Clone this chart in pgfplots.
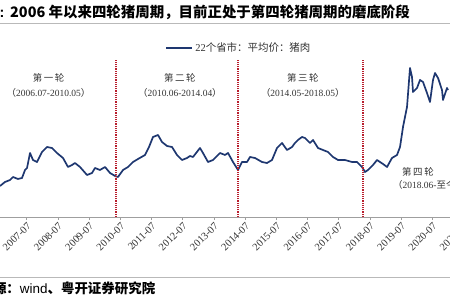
\documentclass[border=0pt]{standalone}
\usepackage{fontspec}
\setmainfont{Liberation Serif}
\setsansfont{Liberation Sans}
\newfontfamily\cjk{Noto Sans CJK SC}
\usepackage{pgfplots}
\pgfplotsset{compat=1.18}
\definecolor{navy}{RGB}{30,55,112}
\definecolor{dred}{RGB}{185,30,45}
\pgfplotstableread{
x y
2006.644 11.33
2006.804 12.67
2006.965 13.33
2007.061 14.33
2007.221 13.67
2007.349 14.00
2007.446 16.67
2007.510 17.33
2007.606 22.33
2007.702 20.00
2007.830 19.33
2007.990 22.67
2008.151 24.33
2008.311 24.00
2008.471 22.33
2008.663 20.67
2008.824 17.67
2008.952 18.33
2009.048 19.00
2009.208 17.67
2009.433 15.00
2009.593 15.67
2009.689 17.33
2009.849 16.67
2010.010 17.67
2010.170 15.67
2010.333 14.67
2010.426 14.33
2010.587 16.67
2010.747 17.67
2010.907 19.33
2011.067 20.33
2011.292 21.67
2011.420 24.33
2011.548 27.67
2011.708 28.33
2011.836 26.00
2011.997 24.67
2012.157 24.33
2012.317 21.67
2012.477 20.00
2012.638 20.67
2012.734 21.33
2012.830 21.00
2013.054 24.00
2013.150 22.33
2013.311 19.33
2013.471 20.00
2013.696 22.33
2013.856 21.67
2013.952 22.33
2014.112 19.33
2014.273 16.67
2014.401 19.33
2014.561 19.33
2014.657 21.00
2014.817 20.67
2015.042 19.33
2015.202 19.00
2015.362 20.00
2015.522 24.00
2015.683 25.67
2015.843 23.33
2016.003 24.33
2016.099 25.67
2016.195 26.67
2016.324 27.67
2016.420 27.33
2016.580 25.67
2016.676 26.67
2016.837 24.00
2016.997 23.33
2017.157 22.67
2017.317 21.00
2017.478 20.00
2017.702 20.00
2017.926 19.33
2018.087 19.33
2018.247 17.67
2018.343 16.00
2018.439 16.67
2018.599 18.33
2018.728 20.00
2018.824 19.33
2018.920 18.67
2019.048 17.67
2019.208 20.67
2019.369 21.67
2019.465 24.33
2019.561 31.00
2019.689 37.67
2019.785 50.67
2019.849 47.67
2019.881 42.67
2020.010 44.00
2020.106 46.67
2020.202 46.00
2020.330 42.33
2020.426 39.33
2020.522 46.67
2020.587 49.00
2020.683 47.33
2020.811 43.33
2020.843 40.00
2020.971 44.00
2021.003 43.33
}\pork
\begin{document}
\begin{tikzpicture}
\useasboundingbox (0bp,0bp) rectangle (450bp,300bp);
\clip (0bp,0bp) rectangle (450bp,300bp);
% title
\node[anchor=base west, inner sep=0, font=\sffamily\bfseries\fontsize{14.5}{16}\selectfont] at (-0.5bp,282.5bp) {:};
\node[anchor=base west, inner sep=0, font=\cjk\bfseries\fontsize{14.5}{16}\selectfont] at (10bp,282.5bp) {2006 年以来四轮猪周期，目前正处于第四轮猪周期的磨底阶段};
\draw[gray!55, line width=0.8bp] (0bp,277bp) -- (450bp,277bp);
% footer
\draw[gray!55, line width=0.8bp] (0bp,23bp) -- (450bp,23bp);
\node[anchor=base west, inner sep=0, font=\cjk\bfseries\fontsize{13.5}{15}\selectfont] at (-47.5bp,7bp) {资料来源：\textnormal{\sffamily\mdseries wind}、粤开证券研究院};
\begin{axis}[
  at={(0bp,83bp)}, anchor=south west,
  width=470bp, height=187bp, scale only axis,
  enlargelimits=false,
  xmin=2006.644, xmax=2021.708, ymin=1, ymax=63.33,
  axis x line=bottom, axis y line=none,
  x axis line style={-, draw=gray!75, line width=0.8bp},
  xtick={2007.5,2008.5,2009.5,2010.5,2011.5,2012.5,2013.5,2014.5,2015.5,2016.5,2017.5,2018.5,2019.5,2020.5,2021.5},
  xticklabels={2007-07,2008-07,2009-07,2010-07,2011-07,2012-07,2013-07,2014-07,2015-07,2016-07,2017-07,2018-07,2019-07,2020-07,2021-07},
  x tick label style={rotate=45, anchor=north east, font=\fontsize{10.5}{12}\selectfont, inner sep=1bp, text=black!80},
  major tick length=3bp, tick align=outside,
  tick style={draw=gray!75, line width=0.8bp},
  legend style={at={(0.352,0.904)}, anchor=west, draw=none, fill=none, inner sep=0pt,
    font=\fontsize{10.5}{12}\selectfont, text=black!80},
  legend image code/.code={\draw[#1] (0bp,0bp) -- (26bp,0bp);},
  clip=false,
]
\addplot[navy, line width=1.7bp, line join=round] table[x=x,y=y] {\pork};
\addlegendentry{22{\cjk 个省市：平均价：猪肉}}
\addplot[dred, line width=1.8bp, dash pattern=on 1.2bp off 1bp, forget plot] coordinates {(2010.365,1) (2010.365,53.33)};
\addplot[dred, line width=1.8bp, dash pattern=on 1.2bp off 1bp, forget plot] coordinates {(2014.263,1) (2014.263,53.33)};
\addplot[dred, line width=1.8bp, dash pattern=on 1.2bp off 1bp, forget plot] coordinates {(2018.288,1) (2018.288,53.33)};
\node[font=\cjk\fontsize{9.5}{11}\selectfont, text=black!80] at (axis cs:2008.20,47.33) {第\,一\,轮};
\node[font=\fontsize{9.5}{11}\selectfont, text=black!80] at (axis cs:2008.20,42.33) {{\cjk （}2006.07-2010.05{\cjk ）}};
\node[font=\cjk\fontsize{9.5}{11}\selectfont, text=black!80] at (axis cs:2012.41,47.33) {第\,二\,轮};
\node[font=\fontsize{9.5}{11}\selectfont, text=black!80] at (axis cs:2012.41,42.33) {{\cjk （}2010.06-2014.04{\cjk ）}};
\node[font=\cjk\fontsize{9.5}{11}\selectfont, text=black!80] at (axis cs:2016.35,47.33) {第\,三\,轮};
\node[font=\fontsize{9.5}{11}\selectfont, text=black!80] at (axis cs:2016.35,42.33) {{\cjk （}2014.05-2018.05{\cjk ）}};
\node[font=\cjk\fontsize{9.5}{11}\selectfont, text=black!80] at (axis cs:2020.04,16) {第\,四\,轮};
\node[anchor=west, inner sep=0, font=\fontsize{9.5}{11}\selectfont, text=black!80] at (axis cs:2019.24,11.67) {{\cjk （}2018.06-{\cjk 至今）}};
\end{axis}
\end{tikzpicture}
\end{document}
